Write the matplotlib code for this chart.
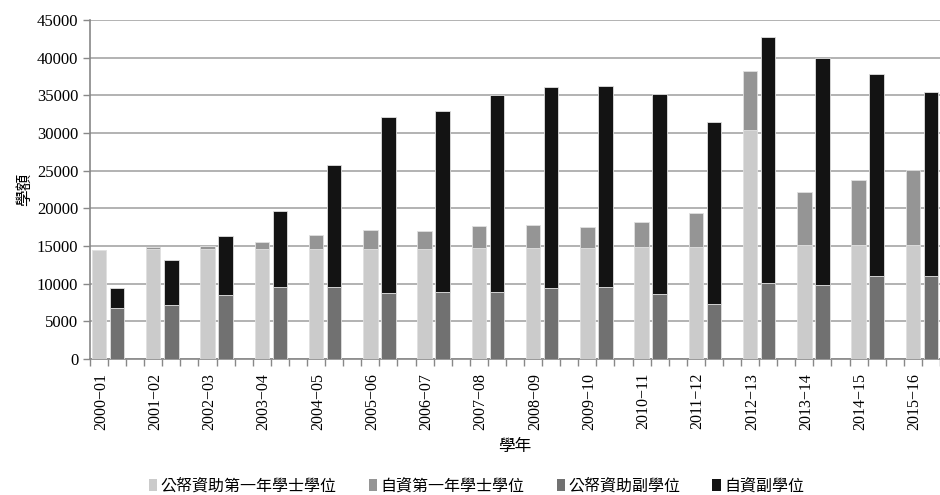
import matplotlib.pyplot as plt
import numpy as np
from matplotlib.patches import Patch

plt.rcParams['font.family'] = ['Liberation Serif', 'Noto Sans CJK TC']

years = ['2000−01', '2001−02', '2002−03', '2003−04', '2004−05', '2005−06',
         '2006−07', '2007−08', '2008−09', '2009−10', '2010−11', '2011−12',
         '2012−13', '2013−14', '2014−15', '2015−16']

# left bar: first-year degree places
ugc_degree = [14500, 14600, 14600, 14600, 14600, 14600, 14600, 14680,
              14680, 14680, 14810, 14810, 30420, 15160, 15160, 15160]
sf_degree = [0, 250, 400, 870, 1850, 2500, 2330, 2920,
             3050, 2870, 3400, 4550, 7780, 6990, 8620, 9910]
# right bar: sub-degree places
ugc_sub = [6800, 7200, 8500, 9500, 9500, 8800, 8930, 8930,
           9460, 9590, 8620, 7340, 10080, 9770, 10960, 10960]
sf_sub = [2570, 5970, 7770, 10080, 16270, 23340, 24050, 26130,
          26610, 26660, 26610, 24140, 32670, 30190, 26880, 24450]

labels = ['公帑資助第一年學士學位', '自資第一年學士學位', '公帑資助副學位', '自資副學位']
colors = ['#cbcbcb', '#959595', '#717171', '#131313']

fig = plt.figure(figsize=(9.4, 4.95), dpi=100)
ax = fig.add_axes([0.0957, 0.2747, 0.9043, 0.685])

n = len(years)
xl = np.arange(n) * 3
xr = xl + 1
w = 0.8
ec = '#e0e0e0'

ax.bar(xl, ugc_degree, w, color=colors[0], edgecolor=ec, linewidth=0.6, zorder=3)
ax.bar(xl, sf_degree, w, bottom=ugc_degree, color=colors[1], edgecolor=ec, linewidth=0.6, zorder=3)
ax.bar(xr, ugc_sub, w, color=colors[2], edgecolor=ec, linewidth=0.6, zorder=3)
ax.bar(xr, sf_sub, w, bottom=ugc_sub, color=colors[3], edgecolor=ec, linewidth=0.6, zorder=3)

ax.set_ylim(0, 45000)
ax.set_yticks(np.arange(0, 45001, 5000))
ax.set_xlim(-0.5, 46.2)

ax.yaxis.grid(True, color='#a6a6a6', linewidth=1.2, zorder=0)
ax.set_axisbelow(True)

# tick marks at every slot boundary, labels under left bars
ax.set_xticks(np.arange(-0.5, 47, 1))
ax.set_xticklabels([])
ax.set_xticks(xl + 0.1, minor=True)
ax.set_xticklabels(years, minor=True, rotation=90, fontsize=11.5)
ax.tick_params(axis='x', which='major', length=5, color='#888888', width=1)
ax.tick_params(axis='x', which='minor', length=0, pad=10)
ax.tick_params(axis='y', length=5, color='#888888', width=1, labelsize=12)

for s in ['top', 'right']:
    ax.spines[s].set_visible(False)
for s in ['left', 'bottom']:
    ax.spines[s].set_color('#888888')
    ax.spines[s].set_linewidth(1.2)

ax.set_ylabel('學額', fontsize=12, family=['Noto Sans CJK TC'], labelpad=3)
ax.set_xlabel('學年', fontsize=12, family=['Noto Sans CJK TC'], labelpad=6)

handles = [Patch(facecolor=c, edgecolor='none') for c in colors]
fig.legend(handles, labels, loc='center', bbox_to_anchor=(0.507, 0.018), ncol=4,
           frameon=False, prop={'family': ['Noto Sans CJK TC'], 'size': 11.5},
           handlelength=0.55, handleheight=0.75, handletextpad=0.2, columnspacing=2.0,
           borderpad=0)

fig.savefig('out.png', dpi=100)
